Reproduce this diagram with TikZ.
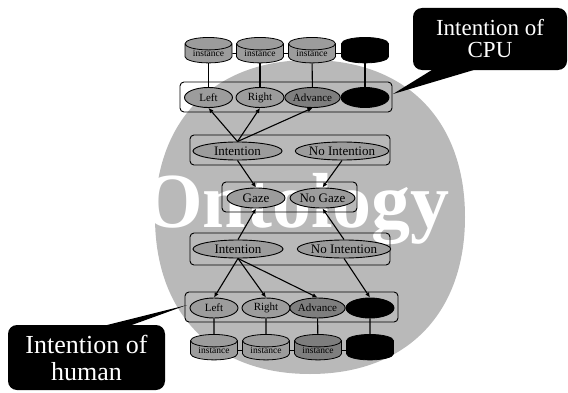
\documentclass[tikz,border=0pt]{standalone}
\usepackage{fontspec}
\setmainfont{Liberation Serif}
\usepackage{tikz}
\usetikzlibrary{shapes.geometric,arrows.meta}
\definecolor{halo}{HTML}{B9B9B9}
\definecolor{nodegray}{HTML}{9C9C9C}
\definecolor{deepgray}{HTML}{7E7E7E}
\tikzset{
  rowbox/.style={draw=black, line width=0.9pt, rounded corners=4pt, inner sep=0pt},
  state/.style={ellipse, draw=black, line width=0.9pt, fill=nodegray, inner sep=0pt, font=\fontsize{13}{13}\selectfont},
  act/.style={state, minimum width=48pt, minimum height=20pt, font=\fontsize{11}{11}\selectfont},
  void/.style={act, fill=black},
  inst/.style={cylinder, shape border rotate=90, aspect=0.4, draw=black, line width=0.8pt, fill=nodegray, minimum width=47pt, minimum height=24pt, inner sep=0pt, font=\fontsize{9.5}{9.5}\selectfont},
  link/.style={draw=black, line width=1.1pt},
  arr/.style={link, -{Latex[length=5pt,width=4.5pt]}},
  bubble/.style={fill=black, text=white, rounded corners=9pt, align=center, inner sep=0pt},
}

\begin{document}
\begin{tikzpicture}[x=1pt,y=1pt]
  \useasboundingbox (0,0) rectangle (568,392);

  % ontology
  \fill[halo] (465,175) .. controls (465,272) and (406,332) .. (310,332)
    .. controls (214,332) and (155,272) .. (155,175)
    .. controls (155,78) and (214,18) .. (310,18)
    .. controls (406,18) and (465,78) .. (465,175) -- cycle;
  \node[anchor=base, text=white, font=\fontsize{78}{78}\selectfont\bfseries] (onto) at (296,165) {Ontology};

  % intention of CPU
  \node[rowbox, minimum width=212pt, minimum height=30pt] (actrow1) at (286,295) {};
  \node[inst] (c1) at (208.5,338.5) {instance};
  \node[inst] (c2) at (260,338.5) {instance};
  \node[inst] (c3) at (312,338.5) {instance};
  \node[inst, fill=black] (c4) at (365,338.5) {\phantom{instance}};
  \node[act] (l1) at (208.5,294.5) {Left};
  \node[act] (r1) at (260,294.5) {Right};
  \node[act, fill=deepgray] (a1) at (312.5,294.5) {Advance};
  \node[void] (b1) at (365,294.5) {};

  \node[rowbox, minimum width=200pt, minimum height=30pt] (introw1) at (290,242) {};
  \node[state, minimum width=89pt, minimum height=18pt] (i1) at (237.5,241) {Intention};
  \node[state, minimum width=90pt, minimum height=18pt] (n1) at (342,241) {No Intention};

  % gaze
  \node[rowbox, minimum width=135pt, minimum height=30pt] (gazerow) at (289.5,195) {};
  \node[state, minimum width=58pt, minimum height=20pt] (g) at (256,194) {Gaze};
  \node[state, minimum width=59pt, minimum height=20pt] (ng) at (322.5,194) {No Gaze};

  % intention of human
  \node[rowbox, minimum width=200pt, minimum height=32pt] (introw2) at (290,143) {};
  \node[state, minimum width=90pt, minimum height=18pt] (i2) at (238,143) {Intention};
  \node[state, minimum width=88pt, minimum height=18pt] (n2) at (344,143) {No Intention};

  \node[rowbox, minimum width=213pt, minimum height=30pt] (actrow2) at (291.5,85) {};
  \node[act] (l2) at (214,84) {Left};
  \node[act] (r2) at (266,84) {Right};
  \node[act, fill=deepgray] (a2) at (317.5,84) {Advance};
  \node[void] (b2) at (370,84) {};
  \node[inst] (d1) at (214,41.5) {instance};
  \node[inst] (d2) at (266,41.5) {instance};
  \node[inst, fill=deepgray] (d3) at (318,41.5) {instance};
  \node[inst, fill=black] (d4) at (370,41.5) {\phantom{instance}};

  % links
  \draw[link, line width=0.7pt] (c1) -- (c2);
  \draw[link, line width=0.7pt] (c2) -- (c3);
  \draw[link, line width=0.7pt] (c3) -- (c4);
  \draw[link, line width=0.7pt] (d1) -- (d2);
  \draw[link, line width=0.7pt] (d2) -- (d3);
  \draw[link, line width=0.7pt] (d3) -- (d4);
  \draw[link] (c1) -- (l1);
  \draw[link] (c2) -- (r1);
  \draw[link] (c3) -- (a1);
  \draw[link] (c4) -- (b1);
  \draw[link] (l2) -- (d1);
  \draw[link] (r2) -- (d2);
  \draw[link] (a2) -- (d3);
  \draw[link] (b2) -- (d4);

  \draw[arr] (i1.north) -- (l1.south);
  \draw[arr] (i1.north) -- (r1.south);
  \draw[arr] (i1.north) -- (a1.south);
  \draw[arr] (i1.south) -- (g.north);
  \draw[arr] (n1.south) -- (ng.north);
  \draw[arr] (i2.north) -- (g.south);
  \draw[arr] (n2.north) -- (ng.south);
  \draw[arr] (i2.south) -- (l2.north);
  \draw[arr] (i2.south) -- (r2.north);
  \draw[arr] (i2.south) -- (a2.north);
  \draw[arr] (n2.south) -- (b2.north);

  % callouts
  \node[bubble, minimum width=154pt, minimum height=62pt, font=\fontsize{23}{22}\selectfont] (cpu) at (490,353) {Intention of\\CPU};
  \coordinate (cputip) at (393,298);
  \fill (cputip) -- ([xshift=22pt,yshift=2pt]cpu.south west) -- ([xshift=67pt,yshift=2pt]cpu.south west) -- cycle;
  \node[bubble, minimum width=157pt, minimum height=65pt, font=\fontsize{26}{27}\selectfont] (human) at (86.5,34.5) {Intention of\\human};
  \coordinate (humantip) at (187,87);
  \fill (humantip) -- ([xshift=92pt,yshift=-2pt]human.north west) -- ([xshift=119pt,yshift=-2pt]human.north west) -- cycle;
\end{tikzpicture}
\end{document}
